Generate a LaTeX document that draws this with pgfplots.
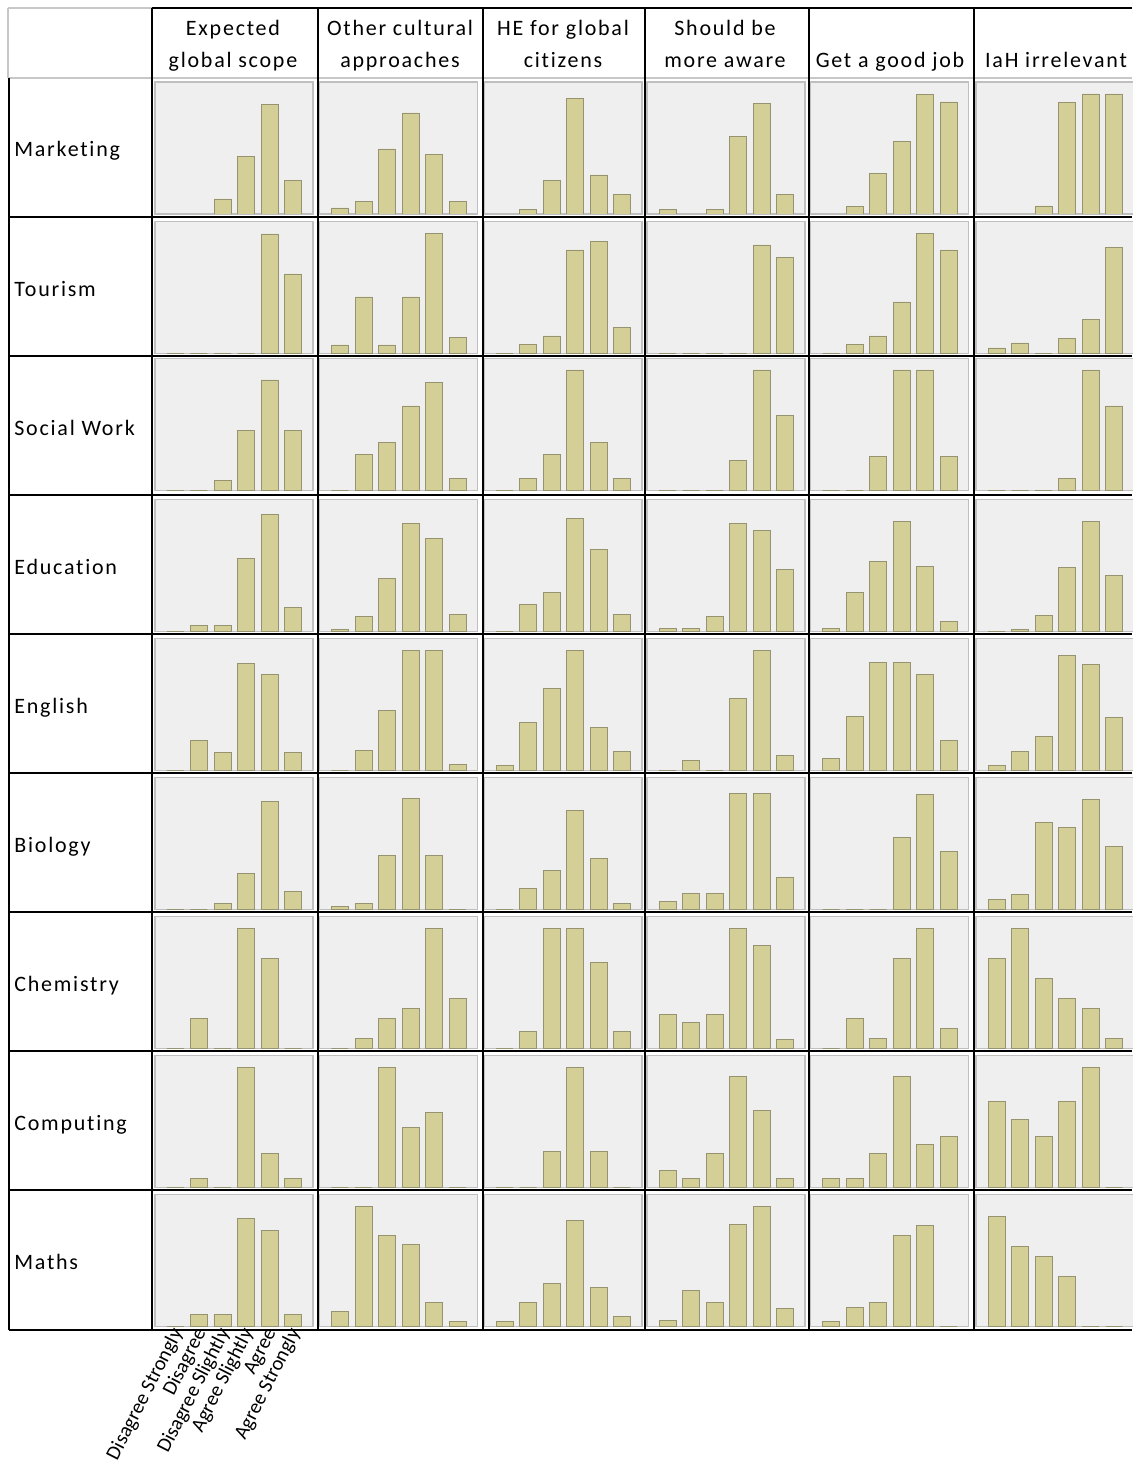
\documentclass[border=0pt]{standalone}
\usepackage{fontspec}
\setmainfont{Carlito}[Ligatures=NoCommon]
\newfontfamily\hdfont[LetterSpace=8,Ligatures=NoCommon]{Carlito}
\usepackage{pgfplots}
\pgfplotsset{compat=1.18}
\definecolor{barfill}{RGB}{212,207,150}
\definecolor{baredge}{RGB}{150,147,112}
\definecolor{plotbg}{RGB}{239,239,239}
\pgfplotsset{
  cell/.style={
    scale only axis, width=79pt, height=66pt, anchor=south west,
    xmin=-0.872, xmax=5.851, ymin=0, ymax=132,
    axis background/.style={fill=plotbg},
    axis line style={draw=black!25, line width=0.6pt},
    xtick=\empty, ytick=\empty,
    ybar, bar width=8.5pt,
  },
  bars/.style={fill=barfill, draw=baredge, line width=0.45pt},
}
\newcommand{\cell}[3]{%
  \begin{axis}[cell, at={(#1pt,#2pt)}]
    \addplot[bars] coordinates {#3};
  \end{axis}}
\def\cA{77.5}\def\cB{159.75}\def\cC{242}\def\cD{323.5}\def\cE{405.25}\def\cF{488}
\def\rA{-107}\def\rB{-176.65}\def\rC{-245.35}\def\rD{-315.65}\def\rE{-385.15}
\def\rF{-454.65}\def\rG{-524.15}\def\rH{-593.65}\def\rI{-663.15}
\begin{document}
\begin{tikzpicture}
\path[use as bounding box] (0pt,0pt) rectangle (566pt,-738pt);
% Marketing
\cell{\cA}{\rA}{(0,0)(1,0)(2,15)(3,57.3)(4,109.7)(5,33.7)}
\cell{\cB}{\rA}{(0,6)(1,12.3)(2,65)(3,101)(4,59.3)(5,12.3)}
\cell{\cC}{\rA}{(0,0)(1,4.3)(2,33.7)(3,115.3)(4,39)(5,19.3)}
\cell{\cD}{\rA}{(0,4.7)(1,0)(2,4.7)(3,77.3)(4,110.3)(5,19.3)}
\cell{\cE}{\rA}{(0,0)(1,7.7)(2,40.3)(3,72.3)(4,119.7)(5,112)}
\cell{\cF}{\rA}{(0,0)(1,0)(2,8)(3,111.7)(4,120)(5,120)}
% Tourism
\cell{\cA}{\rB}{(0,0)(1,0)(2,0)(3,0)(4,119.3)(5,79.3)}
\cell{\cB}{\rB}{(0,8.3)(1,56.3)(2,8.3)(3,56.3)(4,120)(5,16)}
\cell{\cC}{\rB}{(0,0)(1,9)(2,17.3)(3,103.3)(4,111.7)(5,26)}
\cell{\cD}{\rB}{(0,0)(1,0)(2,0)(3,0)(4,108.3)(5,96)}
\cell{\cE}{\rB}{(0,0)(1,8.7)(2,17.3)(3,51.3)(4,120)(5,103.3)}
\cell{\cF}{\rB}{(0,5.3)(1,10.3)(2,0)(3,15)(4,34)(5,106)}
% Social Work
\cell{\cA}{\rC}{(0,0)(1,0)(2,10.3)(3,60.3)(4,110.7)(5,60.3)}
\cell{\cB}{\rC}{(0,0)(1,36.7)(2,48.7)(3,84.7)(4,108.3)(5,12.7)}
\cell{\cC}{\rC}{(0,0)(1,12.7)(2,36.7)(3,120.7)(4,48.3)(5,12.7)}
\cell{\cD}{\rC}{(0,0)(1,0)(2,0)(3,30.7)(4,120.7)(5,75.3)}
\cell{\cE}{\rC}{(0,0)(1,0)(2,34.3)(3,120.7)(4,120.7)(5,34.3)}
\cell{\cF}{\rC}{(0,0)(1,0)(2,0)(3,12.7)(4,120.7)(5,84.7)}
% Education
\cell{\cA}{\rD}{(0,0)(1,6.3)(2,6.3)(3,73.3)(4,117.3)(5,24)}
\cell{\cB}{\rD}{(0,2.3)(1,15)(2,53)(3,108.3)(4,93.3)(5,17.3)}
\cell{\cC}{\rD}{(0,0)(1,26.7)(2,39)(3,112.7)(4,81.7)(5,17.3)}
\cell{\cD}{\rD}{(0,3)(1,3)(2,15)(3,108.3)(4,100.7)(5,62.3)}
\cell{\cE}{\rD}{(0,3)(1,39)(2,69.7)(3,110.3)(4,65.3)(5,9.7)}
\cell{\cF}{\rD}{(0,0)(1,1.7)(2,16)(3,64.3)(4,109.7)(5,56.3)}
% English
\cell{\cA}{\rE}{(0,0)(1,30.3)(2,18)(3,107.3)(4,95.7)(5,18)}
\cell{\cB}{\rE}{(0,0)(1,20)(2,60.3)(3,120.3)(4,120.3)(5,6.3)}
\cell{\cC}{\rE}{(0,5)(1,48)(2,81.7)(3,120)(4,43.3)(5,19.3)}
\cell{\cD}{\rE}{(0,0)(1,10)(2,0)(3,72)(4,120)(5,15)}
\cell{\cE}{\rE}{(0,12.3)(1,54)(2,108.3)(3,108.3)(4,96.3)(5,30.3)}
\cell{\cF}{\rE}{(0,5)(1,19.3)(2,34)(3,115.3)(4,105.7)(5,53)}
% Biology
\cell{\cA}{\rF}{(0,0)(1,0)(2,6.3)(3,36.3)(4,108.3)(5,18.3)}
\cell{\cB}{\rF}{(0,3.3)(1,6)(2,54.3)(3,111.3)(4,54.3)(5,0)}
\cell{\cC}{\rF}{(0,0)(1,21.3)(2,39.3)(3,99)(4,51.3)(5,6)}
\cell{\cD}{\rF}{(0,8.3)(1,16.3)(2,16.3)(3,116.3)(4,116.3)(5,32.3)}
\cell{\cE}{\rF}{(0,0)(1,0)(2,0)(3,72)(4,115.3)(5,57.7)}
\cell{\cF}{\rF}{(0,10.3)(1,15)(2,86.7)(3,81.7)(4,110.3)(5,63)}
% Chemistry
\cell{\cA}{\rG}{(0,0)(1,30.3)(2,0)(3,120)(4,90)(5,0)}
\cell{\cB}{\rG}{(0,0)(1,10)(2,30)(3,40)(4,120)(5,50)}
\cell{\cC}{\rG}{(0,0)(1,17)(2,120)(3,120)(4,86)(5,17)}
\cell{\cD}{\rG}{(0,34.3)(1,25.7)(2,34.3)(3,120)(4,103)(5,8.7)}
\cell{\cE}{\rG}{(0,0)(1,30.3)(2,10.3)(3,90)(4,120)(5,20)}
\cell{\cF}{\rG}{(0,90)(1,120)(2,70)(3,50)(4,40)(5,10)}
% Computing
\cell{\cA}{\rH}{(0,0)(1,9)(2,0)(3,120)(4,34.3)(5,9)}
\cell{\cB}{\rH}{(0,0)(1,0)(2,120)(3,60)(4,75.3)(5,0)}
\cell{\cC}{\rH}{(0,0)(1,0)(2,36)(3,120)(4,36)(5,0)}
\cell{\cD}{\rH}{(0,17)(1,9)(2,34.3)(3,111.3)(4,77)(5,9)}
\cell{\cE}{\rH}{(0,8.7)(1,8.7)(2,34)(3,111.3)(4,43)(5,51)}
\cell{\cF}{\rH}{(0,86)(1,68.3)(2,51.3)(3,86)(4,120)(5,0)}
% Maths
\begin{axis}[cell, at={(\cA pt,\rI pt)},
  xtick={0,1,2,3,4,5}, major tick length=0pt,
  xticklabels={Disagree Strongly,Disagree,Disagree Slightly,Agree Slightly,Agree,Agree Strongly},
  xticklabel style={rotate=63, anchor=east, font=\fontsize{10.2}{12}\selectfont, inner sep=1pt, yshift=-2pt}]
  \addplot[bars] coordinates {(0,0)(1,12)(2,12)(3,108)(4,96)(5,12)};
\end{axis}
\cell{\cB}{\rI}{(0,15)(1,120)(2,91)(3,81.7)(4,24)(5,5)}
\cell{\cC}{\rI}{(0,5)(1,24)(2,43.3)(3,106)(4,38.7)(5,10)}
\cell{\cD}{\rI}{(0,6)(1,35.7)(2,24)(3,102.3)(4,120)(5,18)}
\cell{\cE}{\rI}{(0,5)(1,19.3)(2,24)(3,91.3)(4,101)(5,0)}
\cell{\cF}{\rI}{(0,109.7)(1,80)(2,70)(3,50)(4,0)(5,0)}
% table lines and text
\begin{scope}[x=0.5pt,y=-0.5pt]
\draw[black!22, line width=1pt] (8,8) -- (152,8) (8,8) -- (8,78) (8,78) -- (1132,78);
\draw[black, line width=1.1pt] (152,8) -- (1132,8);
\foreach \x in {152,318,483,645,809,974} \draw[black, line width=1.1pt] (\x,8) -- (\x,1330);
\draw[black, line width=1.1pt] (9,78) -- (9,1330);
\foreach \y in {217,356,495,634,773,912,1051,1190,1330} \draw[black, line width=1.3pt] (9,\y) -- (1132,\y);
\begin{scope}[every node/.style={font=\hdfont\fontsize{11}{13}\selectfont, inner sep=0pt, anchor=base}]
\node at (233,36) {Expected};
\node at (233,68) {global scope};
\node at (400,36) {Other cultural};
\node at (400,68) {approaches};
\node at (563,36) {HE for global};
\node at (563,68) {citizens};
\node at (725,36) {Should be};
\node at (725,68) {more aware};
\node at (890,68) {Get a good job};
\node at (1056,68) {IaH irrelevant};
\end{scope}
\begin{scope}[every node/.style={font=\hdfont\fontsize{11}{13}\selectfont, inner sep=0pt, anchor=base west}]
\node at (14,157) {Marketing};
\node at (14,296.1) {Tourism};
\node at (14,435.2) {Social Work};
\node at (14,574.3) {Education};
\node at (14,713.4) {English};
\node at (14,852.5) {Biology};
\node at (14,991.6) {Chemistry};
\node at (14,1130.7) {Computing};
\node at (14,1269.8) {Maths};
\end{scope}
\end{scope}
\end{tikzpicture}
\end{document}
